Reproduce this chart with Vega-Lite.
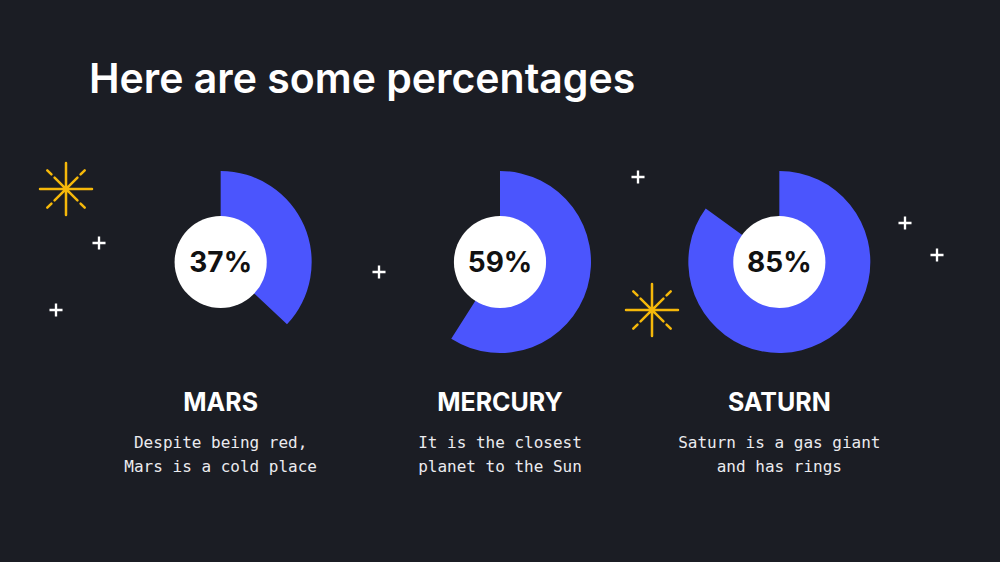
{
  "$schema": "https://vega.github.io/schema/vega-lite/v6.json",
  "width": 1000,
  "height": 304,
  "autosize": {"type": "none"},
  "padding": {"left": 0, "right": 0, "top": 110, "bottom": 148},
  "background": "#1b1d24",
  "config": {"view": {"stroke": null}},
  "title": {
    "text": "Here are some percentages",
    "anchor": "start",
    "frame": "group",
    "dx": 89,
    "offset": 8,
    "fontSize": 41,
    "font": "Inter",
    "fontWeight": 600,
    "color": "#ffffff"
  },
  "datasets": {
    "planets": [
      {"planet": "MARS", "pct": 0.37, "desc": "Despite being red,\nMars is a cold place"},
      {"planet": "MERCURY", "pct": 0.59, "desc": "It is the closest\nplanet to the Sun"},
      {"planet": "SATURN", "pct": 0.85, "desc": "Saturn is a gas giant\nand has rings"}
    ],
    "decor": [
      {"kind": "star", "x": 66, "y": 189},
      {"kind": "star", "x": 652, "y": 310},
      {"kind": "plus", "x": 99, "y": 243},
      {"kind": "plus", "x": 56, "y": 310},
      {"kind": "plus", "x": 379, "y": 272},
      {"kind": "plus", "x": 638, "y": 177},
      {"kind": "plus", "x": 905, "y": 223},
      {"kind": "plus", "x": 937, "y": 255}
    ]
  },
  "layer": [
    {
      "data": {"name": "decor"},
      "transform": [{"filter": "datum.kind === 'plus'"}],
      "mark": {
        "type": "point",
        "shape": "M-0.18,-1L0.18,-1L0.18,-0.18L1,-0.18L1,0.18L0.18,0.18L0.18,1L-0.18,1L-0.18,0.18L-1,0.18L-1,-0.18L-0.18,-0.18Z",
        "size": 170,
        "filled": true,
        "color": "#ffffff",
        "opacity": 1
      },
      "encoding": {
        "x": {"field": "x", "type": "quantitative", "scale": {"domain": [0, 1000], "nice": false, "zero": false}, "axis": null},
        "y": {"field": "y", "type": "quantitative", "scale": {"domain": [110, 414], "nice": false, "zero": false, "reverse": true}, "axis": null}
      }
    },
    {
      "data": {"name": "decor"},
      "transform": [{"filter": "datum.kind === 'star'"}],
      "mark": {
        "type": "point",
        "shape": "M-1,0L1,0M0,-1L0,1M-0.44,-0.44L0.44,0.44M-0.44,0.44L0.44,-0.44M-0.72,-0.72L-0.56,-0.56M0.56,0.56L0.72,0.72M-0.72,0.72L-0.56,0.56M0.56,-0.56L0.72,-0.72",
        "size": 2704,
        "filled": false,
        "stroke": "#f5b80a",
        "strokeWidth": 2.5,
        "strokeCap": "round",
        "opacity": 1
      },
      "encoding": {
        "x": {"field": "x", "type": "quantitative", "scale": {"domain": [0, 1000], "nice": false, "zero": false}, "axis": null},
        "y": {"field": "y", "type": "quantitative", "scale": {"domain": [110, 414], "nice": false, "zero": false, "reverse": true}, "axis": null}
      }
    },
    {
      "data": {"name": "planets"},
      "mark": {"type": "arc", "radius": 91, "radius2": 0, "color": "#4b55fd"},
      "encoding": {
        "x": {"field": "planet", "type": "nominal", "sort": null, "scale": {"type": "point", "padding": 0.79}, "axis": null},
        "theta": {"field": "pct", "type": "quantitative", "scale": {"domain": [0, 1], "range": [0, 6.283185307]}, "stack": null}
      }
    },
    {
      "data": {"name": "planets"},
      "mark": {"type": "point", "shape": "circle", "size": 8495, "filled": true, "color": "#ffffff", "opacity": 1},
      "encoding": {
        "x": {"field": "planet", "type": "nominal", "sort": null, "scale": {"type": "point", "padding": 0.79}, "axis": null}
      }
    },
    {
      "data": {"name": "planets"},
      "mark": {"type": "text", "font": "Inter", "fontWeight": 700, "fontSize": 28, "color": "#111111", "align": "center", "baseline": "middle", "dy": 2},
      "encoding": {
        "x": {"field": "planet", "type": "nominal", "sort": null, "scale": {"type": "point", "padding": 0.79}, "axis": null},
        "text": {"field": "pct", "type": "quantitative", "format": ".0%"}
      }
    },
    {
      "data": {"name": "planets"},
      "mark": {"type": "text", "font": "Inter", "fontWeight": 700, "fontSize": 25, "color": "#ffffff", "align": "center", "baseline": "middle", "dy": 141},
      "encoding": {
        "x": {"field": "planet", "type": "nominal", "sort": null, "scale": {"type": "point", "padding": 0.79}, "axis": null},
        "text": {"field": "planet", "type": "nominal"}
      }
    },
    {
      "data": {"name": "planets"},
      "mark": {"type": "text", "font": "DejaVu Sans Mono", "fontSize": 16, "color": "#ebebef", "align": "center", "baseline": "middle", "dy": 181, "lineBreak": "\n", "lineHeight": 24},
      "encoding": {
        "x": {"field": "planet", "type": "nominal", "sort": null, "scale": {"type": "point", "padding": 0.79}, "axis": null},
        "text": {"field": "desc", "type": "nominal"}
      }
    }
  ],
  "resolve": {"scale": {"x": "independent", "y": "independent"}}
}
